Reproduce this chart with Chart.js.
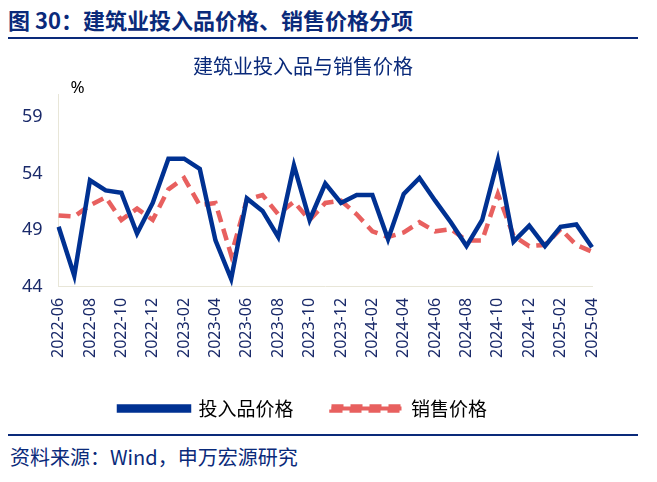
<!DOCTYPE html>
<html><head><meta charset="utf-8">
<script src="https://cdn.jsdelivr.net/npm/chart.js@4"></script>
<style>
body{margin:0;width:657px;height:482px;background:#fff;font-family:"Noto Sans CJK SC","Noto Sans",sans-serif;position:relative;overflow:hidden}
#hd{position:absolute;left:8px;top:3px;font-size:22px;font-weight:bold;color:#0a2a7a}
#l1{position:absolute;left:8px;top:37px;width:630px;height:2px;background:#0a2a7a}
#l2{position:absolute;left:8px;top:434px;width:630px;height:2px;background:#0a2a7a}
#ft{position:absolute;left:10px;top:442px;font-size:20px;color:#0a2a7a}
#wrap{position:absolute;left:8px;top:44px;width:630px;height:388px}
</style></head><body>
<div id="hd">图 30：建筑业投入品价格、销售价格分项</div>
<div id="l1"></div>
<div id="wrap"><canvas id="c"></canvas></div>
<div id="l2"></div>
<div id="ft">资料来源：Wind，申万宏源研究</div>
<script>
const months = ['2022-06','2022-07','2022-08','2022-09','2022-10','2022-11','2022-12','2023-01','2023-02','2023-03','2023-04','2023-05','2023-06','2023-07','2023-08','2023-09','2023-10','2023-11','2023-12','2024-01','2024-02','2024-03','2024-04','2024-05','2024-06','2024-07','2024-08','2024-09','2024-10','2024-11','2024-12','2025-01','2025-02','2025-03','2025-04'];
const inputPrice = [49.3,45.0,53.4,52.5,52.3,48.7,51.4,55.3,55.3,54.4,48.1,44.7,51.8,50.7,48.4,54.7,49.9,53.1,51.4,52.1,52.1,48.2,52.2,53.6,51.6,49.7,47.6,49.9,55.2,48.0,49.4,47.6,49.3,49.5,47.5];
const salesPrice = [50.3,50.2,51.2,51.9,49.9,50.9,49.9,52.6,53.6,51.2,51.4,46.8,51.7,52.1,50.4,51.5,49.9,51.4,51.6,50.4,48.9,48.4,48.8,49.7,48.9,49.1,48.1,48.1,52.2,48.5,47.6,47.7,49.1,47.7,47.1];
const yTicks = [44,49,54,59];
const blue = '#003192', red = '#e8605f', grid = '#e8e6d8', txt = '#1a2a6a';
new Chart(document.getElementById('c'), {
  type: 'line',
  data: { labels: months, datasets: [
    { label: '投入品价格', data: inputPrice, borderColor: blue, backgroundColor: blue, borderWidth: 4.5, pointRadius: 0, tension: 0 },
    { label: '销售价格', data: salesPrice, borderColor: red, backgroundColor: red, borderWidth: 4.5, borderDash: [12, 7], pointRadius: 0, tension: 0 }
  ]},
  options: {
    responsive: true, maintainAspectRatio: false, animation: false,
    layout: { padding: { left: 6, right: 46, top: 0, bottom: 4 } },
    plugins: {
      title: { display: true, text: '建筑业投入品与销售价格', color: '#0a2a7a', font: { size: 20, family: 'Noto Sans CJK SC', weight: 'normal' }, padding: { top: 10, bottom: 16 } },
      legend: { position: 'bottom', labels: { color: '#000', font: { size: 19, family: 'Noto Sans CJK SC' }, boxWidth: 70, boxHeight: 4, padding: 38 } },
      tooltip: { enabled: false }
    },
    scales: {
      x: { grid: { display: false, drawTicks: true }, border: { color: grid },
           ticks: { color: txt, font: { size: 16, family: 'Noto Sans' }, maxRotation: 90, minRotation: 90, autoSkip: false,
                    callback: (v, i) => i % 2 === 0 ? months[i] : '' } },
      y: { min: 44, max: 61, border: { color: grid }, grid: { display: false },
           afterBuildTicks: ax => { ax.ticks = yTicks.map(v => ({ value: v })); },
           ticks: { color: txt, font: { size: 18, family: 'Noto Sans' }, padding: 8 } }
    }
  },
  plugins: [{ id: 'pct', afterDraw(ch) { const c = ch.ctx; c.save(); c.fillStyle = '#000'; c.font = '17px "Noto Sans"'; c.fillText('%', ch.chartArea.left + 12, ch.chartArea.top - 6); c.restore(); } }]
});
</script>
</body></html>
